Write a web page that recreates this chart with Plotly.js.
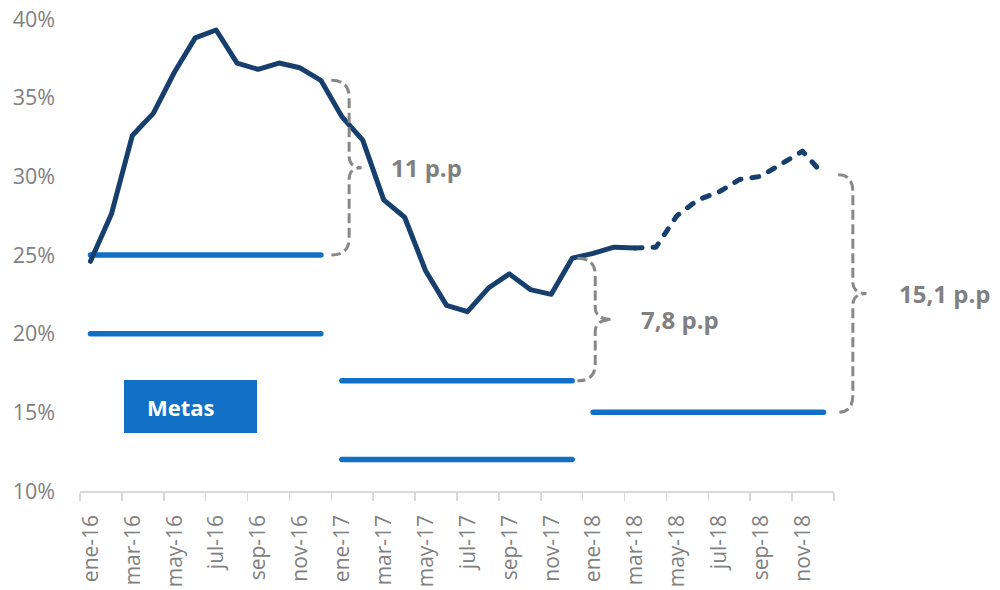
<!DOCTYPE html>
<html>
<head>
<meta charset="utf-8">
<script src="https://cdn.plot.ly/plotly-3.0.1.min.js"></script>
<style>
  html, body { margin: 0; padding: 0; background: #fff; }
  #chart { width: 1000px; height: 590px; }
</style>
</head>
<body>
<div id="chart"></div>
<script>
// ---------- data ----------
const months = [
  'ene-16','feb-16','mar-16','abr-16','may-16','jun-16','jul-16','ago-16','sep-16','oct-16','nov-16','dic-16',
  'ene-17','feb-17','mar-17','abr-17','may-17','jun-17','jul-17','ago-17','sep-17','oct-17','nov-17','dic-17',
  'ene-18','feb-18','mar-18','abr-18','may-18','jun-18','jul-18','ago-18','sep-18','oct-18','nov-18','dic-18'
];
const inflacion = [
  24.6, 27.6, 32.6, 34.0, 36.6, 38.8, 39.3, 37.2, 36.8, 37.2, 36.9, 36.1,
  33.8, 32.3, 28.5, 27.4, 24.0, 21.8, 21.4, 22.9, 23.8, 22.8, 22.5, 24.8,
  25.1, 25.5, 25.45, 25.5, 27.5, 28.5, 29.0, 29.8, 30.0, 30.8, 31.6, 30.1
];
const lastObserved = 'mar-18';           // after this month the series is a projection (dashed)
const metaAnios = ['2016', '2017', '2018'];
const metaSuperior = [25, 17, 15];
const metaInferior = [20, 12, null];
const brechaTextos = ['11 p.p', '7,8 p.p', '15,1 p.p'];
const yTicks = [10, 15, 20, 25, 30, 35, 40];

// ---------- build ----------
const idx = months.map((m, i) => i);
const nCat = months.length;
const yMin = 10, yMax = 40;
const cut = months.indexOf(lastObserved);

const navy = '#173F6E';
const blue = '#1170C6';
const gray = '#808080';

const traces = [];
// target lines
metaAnios.forEach((a, k) => {
  const xs = idx.filter(i => months[i].endsWith(a.slice(2)));
  [metaSuperior[k], metaInferior[k]].forEach(v => {
    if (v === null) return;
    traces.push({
      x: xs, y: xs.map(() => v), type: 'scatter', mode: 'lines',
      line: { color: blue, width: 5.5 }, hoverinfo: 'skip', showlegend: false
    });
  });
});
// inflation: observed (solid) and projected (dashed)
traces.push({
  x: idx.slice(0, cut + 1), y: inflacion.slice(0, cut + 1), type: 'scatter', mode: 'lines',
  line: { color: navy, width: 5 }, showlegend: false
});
traces.push({
  x: idx.slice(cut), y: inflacion.slice(cut), type: 'scatter', mode: 'lines',
  line: { color: navy, width: 5, dash: '7px,11px' }, showlegend: false
});

// tick labels every two months, tick marks at category boundaries
const tickVals = [], tickText = [];
for (let i = 0; i < nCat; i += 2) { tickVals.push(i - 0.5); tickText.push(months[i]); }
tickVals.push(nCat - 0.5); tickText.push('');

// ---------- braces (gap between December value and upper target) ----------
const px = i => (i + 0.5) / nCat;
const py = v => (v - yMin) / (yMax - yMin);
const plotH = 590 - 19 - 99;
const r1 = 17 / plotH, r2 = 12 / plotH;
const braceGeom = [
  { s: 0.5, p: 1.35, t: 1.95 },
  { s: 0.25, p: 1.1, t: 1.9 },
  { s: 0.7, p: 1.4, t: 2.05 }
];
const shapes = [];
const annotations = [];
metaAnios.forEach((a, k) => {
  const dec = months.indexOf('dic-' + a.slice(2));
  const g = braceGeom[k];
  const xs = px(dec + g.s), xp = px(dec + g.p), xt = px(dec + g.t);
  const yT = py(inflacion[dec]), yB = py(metaSuperior[k]), yM = (yT + yB) / 2;
  const path = `M${xs},${yT} Q${xp},${yT} ${xp},${yT - r1} L${xp},${yM + r2} Q${xp},${yM} ${xt},${yM} ` +
               `Q${xp},${yM} ${xp},${yM - r2} L${xp},${yB + r1} Q${xp},${yB} ${xs},${yB}`;
  shapes.push({
    type: 'path', xref: 'paper', yref: 'paper', path: path,
    line: { color: '#888888', width: 3, dash: '10px,4.5px' }
  });
  annotations.push({
    xref: 'paper', yref: 'paper', x: xt, y: yM, xanchor: 'left', yanchor: 'middle',
    xshift: k === 2 ? 31 : 27, yshift: 0, showarrow: false, text: '<b>' + brechaTextos[k] + '</b>',
    font: { family: 'Open Sans', size: 24, color: gray }
  });
});

// "Metas" box
const plotW = 1000 - 80 - 166;
shapes.push({
  type: 'rect', xref: 'paper', yref: 'paper',
  x0: (124 - 80) / plotW, x1: (257 - 80) / plotW,
  y0: (491 - 433) / plotH, y1: (491 - 380) / plotH,
  fillcolor: blue, line: { width: 0 }, layer: 'above'
});
annotations.push({
  xref: 'paper', yref: 'paper', x: (145 - 80) / plotW, y: (491 - 406.5) / plotH,
  xanchor: 'left', yanchor: 'middle', showarrow: false, text: '<b>Metas</b>',
  font: { family: 'Open Sans', size: 22, color: '#ffffff' }
});

const layout = {
  width: 1000, height: 590,
  margin: { l: 80, r: 166, t: 19, b: 99, pad: 0 },
  paper_bgcolor: '#ffffff', plot_bgcolor: '#ffffff',
  font: { family: 'Open Sans', color: gray },
  showlegend: false,
  xaxis: {
    range: [-0.5, nCat - 0.5], tickmode: 'array', tickvals: tickVals, ticktext: tickText,
    tickangle: -90, ticklabelshift: 11, ticklabelstandoff: 6,
    ticks: 'outside', ticklen: 8, tickwidth: 1.5, tickcolor: '#d9d9d9',
    showline: true, linecolor: '#d9d9d9', linewidth: 1.5,
    showgrid: false, zeroline: false,
    tickfont: { family: 'Open Sans', size: 21, color: gray }
  },
  yaxis: {
    range: [yMin, yMax], tickmode: 'array', tickvals: yTicks, ticktext: yTicks.map(v => v + '%'),
    showgrid: false, zeroline: false, showline: false, ticks: '',
    ticklabelstandoff: 24,
    tickfont: { family: 'Open Sans', size: 21.5, color: gray }
  },
  shapes: shapes,
  annotations: annotations
};

function roundCaps() {
  document.querySelectorAll('#chart .scatterlayer path.js-line').forEach(p => {
    p.style.strokeLinecap = 'round';
    p.style.strokeLinejoin = 'round';
  });
}
Plotly.newPlot('chart', traces, layout, { staticPlot: true, displayModeBar: false }).then(roundCaps);
</script>
</body>
</html>
